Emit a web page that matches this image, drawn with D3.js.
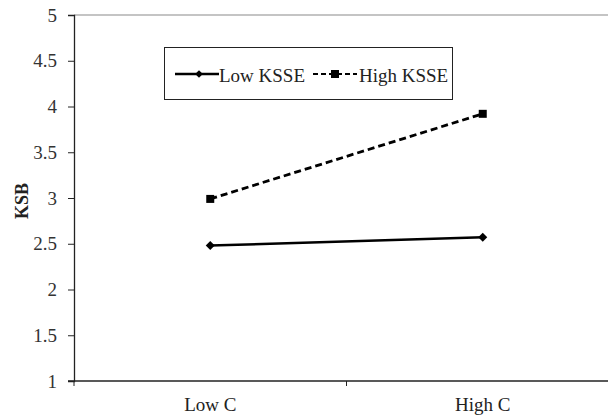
<!DOCTYPE html>
<html><head><meta charset="utf-8">
<script src="https://cdn.jsdelivr.net/npm/d3@7"></script>
<style>body{margin:0;background:#fff}svg{display:block}</style>
</head><body><svg id="c" width="608" height="418"></svg>
<script>
const categories = ["Low C", "High C"];
const lowKSSE = [2.48, 2.57];
const highKSSE = [2.99, 3.92];
const yTicks = [1, 1.5, 2, 2.5, 3, 3.5, 4, 4.5, 5];
const seriesNames = ["Low KSSE", "High KSSE"];

const FONT = '"Liberation Serif"';
const svg = d3.select("#c");
const pLeft = 74, pRight = 619, pTop = 15, pBottom = 381;
const y = d3.scaleLinear().domain([1, 5]).range([pBottom, pTop]);
const xBand = d3.scaleBand().domain(categories).range([pLeft, pRight]);
const cx = (i) => xBand(categories[i]) + xBand.bandwidth() / 2;

// top border
svg.append("line").attr("x1", pLeft).attr("x2", 608).attr("y1", pTop).attr("y2", pTop)
  .attr("stroke", "#8a8a8a").attr("stroke-width", 1.2);

// y axis
const ya = svg.append("g").attr("transform", `translate(${pLeft},0)`)
  .call(d3.axisLeft(y).tickValues(yTicks).tickSize(6).tickPadding(11).tickFormat(d => d3.format("")(d)));
ya.attr("font-family", null).attr("font-size", null);
ya.select(".domain").attr("stroke", "#222").attr("stroke-width", 1.3);
ya.selectAll(".tick line").attr("stroke", "#222");
ya.selectAll("text").attr("fill", "#333").style("font-family", FONT).style("font-size", "19px");

// x axis
svg.append("line").attr("x1", pLeft - 6).attr("x2", 608).attr("y1", pBottom).attr("y2", pBottom)
  .attr("stroke", "#222").attr("stroke-width", 1.3);
const xTickPos = categories.map(c => xBand(c));
svg.selectAll(".xt").data(xTickPos).enter().append("line")
  .attr("x1", d => d).attr("x2", d => d).attr("y1", pBottom).attr("y2", pBottom + 5)
  .attr("stroke", "#222");
svg.selectAll(".xl").data(categories).enter().append("text")
  .attr("x", (d, i) => cx(i)).attr("y", 411)
  .attr("text-anchor", "middle").style("font-family", FONT).style("font-size", "19px").attr("fill", "#222").text(d => d);

// y label
svg.append("text").attr("transform", `translate(28,${(pTop + pBottom) / 2 + 3}) rotate(-90)`)
  .attr("text-anchor", "middle").style("font-family", FONT).style("font-size", "18px").style("font-weight", "bold").attr("fill", "#222").text("KSB");

const line = d3.line().x((d, i) => cx(i)).y(d => y(d));
svg.append("path").datum(highKSSE).attr("d", line).attr("fill", "none")
  .attr("stroke", "#000").attr("stroke-width", 2.8).attr("stroke-dasharray", "7,4");
svg.append("path").datum(lowKSSE).attr("d", line).attr("fill", "none")
  .attr("stroke", "#000").attr("stroke-width", 2.5);

svg.selectAll(".dm").data(lowKSSE).enter().append("path")
  .attr("d", d3.symbol().type(d3.symbolSquare).size(40))
  .attr("transform", (d, i) => `translate(${cx(i)},${y(d)}) rotate(45)`).attr("fill", "#000");
svg.selectAll(".sq").data(highKSSE).enter().append("path")
  .attr("d", d3.symbol().type(d3.symbolSquare).size(64))
  .attr("transform", (d, i) => `translate(${cx(i)},${y(d)})`).attr("fill", "#000");

// legend
const lg = svg.append("g");
lg.append("rect").attr("x", 164.5).attr("y", 47.5).attr("width", 288).attr("height", 52)
  .attr("fill", "#fff").attr("stroke", "#222").attr("stroke-width", 1);
const ly = 74;
lg.append("line").attr("x1", 175).attr("x2", 219).attr("y1", ly).attr("y2", ly).attr("stroke", "#000").attr("stroke-width", 2.5);
lg.append("path").attr("d", d3.symbol().type(d3.symbolSquare).size(30)).attr("transform", `translate(199,${ly}) rotate(45)`).attr("fill", "#000");
lg.append("text").attr("x", 219).attr("y", ly + 8).style("font-family", FONT).style("font-size", "19px").attr("fill", "#222").text(seriesNames[0]);
lg.append("line").attr("x1", 313).attr("x2", 357).attr("y1", ly).attr("y2", ly).attr("stroke", "#000").attr("stroke-width", 2).attr("stroke-dasharray", "5,3");
lg.append("rect").attr("x", 331).attr("y", ly - 4).attr("width", 8).attr("height", 8).attr("fill", "#000");
lg.append("text").attr("x", 359).attr("y", ly + 8).style("font-family", FONT).style("font-size", "19px").attr("fill", "#222").text(seriesNames[1]);
</script></body></html>
